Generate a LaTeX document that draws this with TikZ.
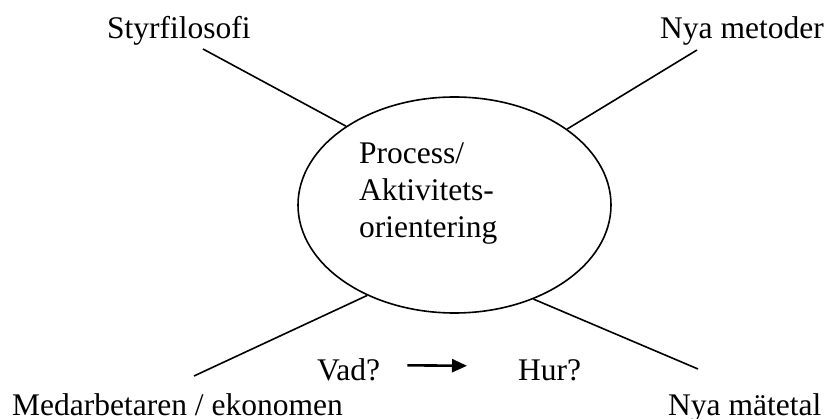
\documentclass[tikz,border=0pt]{standalone}
\usepackage{fontspec}
\setmainfont{Liberation Serif}
\usetikzlibrary{shapes.geometric,arrows.meta}
\begin{document}
\begin{tikzpicture}[x=1pt,y=-1pt,
  label/.style={inner sep=0pt,anchor=base west,font=\fontsize{31.5}{37}\selectfont},
  spoke/.style={line width=1.6pt},
  flow/.style={line width=2.6pt,-{Triangle[length=15pt,width=13pt]}}]
  \useasboundingbox (0,0) rectangle (829,419);

  % central ellipse and its caption
  \node[draw,ellipse,line width=1.6pt,inner sep=0pt,
        minimum width=313pt,minimum height=216pt] (core) at (454.5,205) {};
  \node[label,anchor=north west,align=left] (coretext) at (359,142.5)
        {Process/\\Aktivitets-\\orientering};

  % the four surrounding themes
  \node[label] (styr) at (107,39) {Styrfilosofi};
  \node[label] (metod) at (660,39) {Nya metoder};
  \node[label] (medarb) at (12,415) {Medarbetaren / ekonomen};
  \node[label] (matetal) at (668,415) {Nya mätetal};

  % what / how
  \node[label] (vad) at (317,380) {Vad?};
  \node[label] (hur) at (518,380) {Hur?};

  % free ends of the spokes, just by their labels
  \coordinate (styrend) at (203,49);
  \coordinate (metodend) at (697,50);
  \coordinate (medarbend) at (194,376);
  \coordinate (matetalend) at (698,369);

  \draw[spoke] (styrend) -- (core.144.9);
  \draw[spoke] (metodend) -- (core.34);
  \draw[spoke] (medarbend) -- (core.226.4);
  \draw[spoke] (matetalend) -- (core.310.1);

  \draw[flow] ([xshift=27pt,yshift=4pt]vad.east) -- ([xshift=-51pt,yshift=4pt]hur.west);
\end{tikzpicture}
\end{document}
